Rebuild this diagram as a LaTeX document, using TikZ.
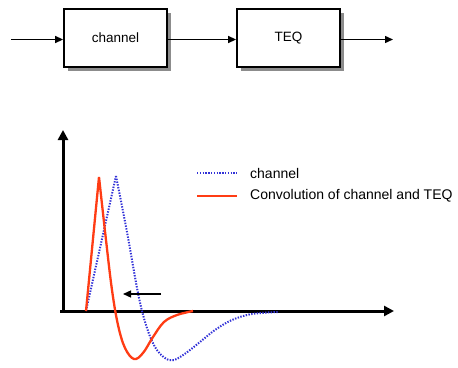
\documentclass[tikz,border=0pt]{standalone}
\usepackage{fontspec}
\setmainfont{Liberation Sans}
\usetikzlibrary{arrows.meta}
\definecolor{chanblue}{RGB}{50,50,215}
\definecolor{convred}{RGB}{255,60,20}
\tikzset{
  blockbox/.style={draw=black, line width=1.8pt, fill=white, minimum width=103pt,
    minimum height=58pt, inner sep=0pt, font=\fontsize{13.5}{16}\selectfont},
  boxshadow/.style={fill=black!45, draw=none},
  sigarrow/.style={line width=1.4pt, -{Triangle[length=8pt,width=7pt]}},
  axisline/.style={line width=3pt, -{Triangle[length=10pt,width=10pt]}},
  chanline/.style={chanblue, line width=2pt, dash pattern=on 1.4pt off 1.4pt},
  convline/.style={convred, line width=2.3pt, line join=round},
  legendtext/.style={anchor=west, inner sep=0pt, font=\fontsize{14}{16}\selectfont}
}
\begin{document}
\begin{tikzpicture}[x=1pt, y=-1pt]
  \useasboundingbox (0,0) rectangle (458,367);

  % block diagram: channel followed by TEQ
  \fill[boxshadow] (68,13) rectangle (171,71);
  \fill[boxshadow] (241,13) rectangle (344,71);
  \node[blockbox] (chan) at (115.5,38) {channel};
  \node[blockbox] (teq) at (288.5,38) {TEQ};
  \coordinate (in) at (11,39.5);
  \coordinate (out) at (393,39.5);
  \draw[sigarrow] (in) -- (chan.west |- in);
  \draw[sigarrow] (chan.east |- in) -- (teq.west |- in);
  \draw[sigarrow] (teq.east |- out) -- (out);

  % axes
  \coordinate (origin) at (63,311);
  \coordinate (ytop) at (63,130);
  \coordinate (xend) at (394,311);
  \draw[axisline] (origin) -- (ytop);
  \draw[axisline] (60,311) -- (xend);

  % channel impulse response
  \draw[chanline] (86,311) -- (116,176)
    plot[smooth, tension=0.6] coordinates {(116,176) (127,232) (138,293) (146,325)
      (155,347) (165,358) (174,360) (186,353) (200,342) (215,330) (232,320)
      (252,314) (278,312)};

  % shortened response after equalisation
  \draw[convline] (86,311) -- (99,177)
    plot[smooth, tension=0.6] coordinates {(99,177) (106,240) (112,290) (118,325)
      (125,348) (134,359) (143,353) (153,337) (164,322) (177,315) (193,311)};

  % shortening arrow
  \coordinate (sa) at (161,294);
  \coordinate (sb) at (123,294);
  \draw[line width=1.3pt, -{Triangle[length=8pt,width=7pt]}] (sa) -- (sb);

  % legend
  \draw[chanline] (197,173) -- (237,173);
  \node[legendtext] (l1) at (250,173) {channel};
  \draw[convline] (197,196) -- (237,196);
  \node[legendtext] (l2) at (250,196) {Convolution of channel and TEQ};
\end{tikzpicture}
\end{document}
